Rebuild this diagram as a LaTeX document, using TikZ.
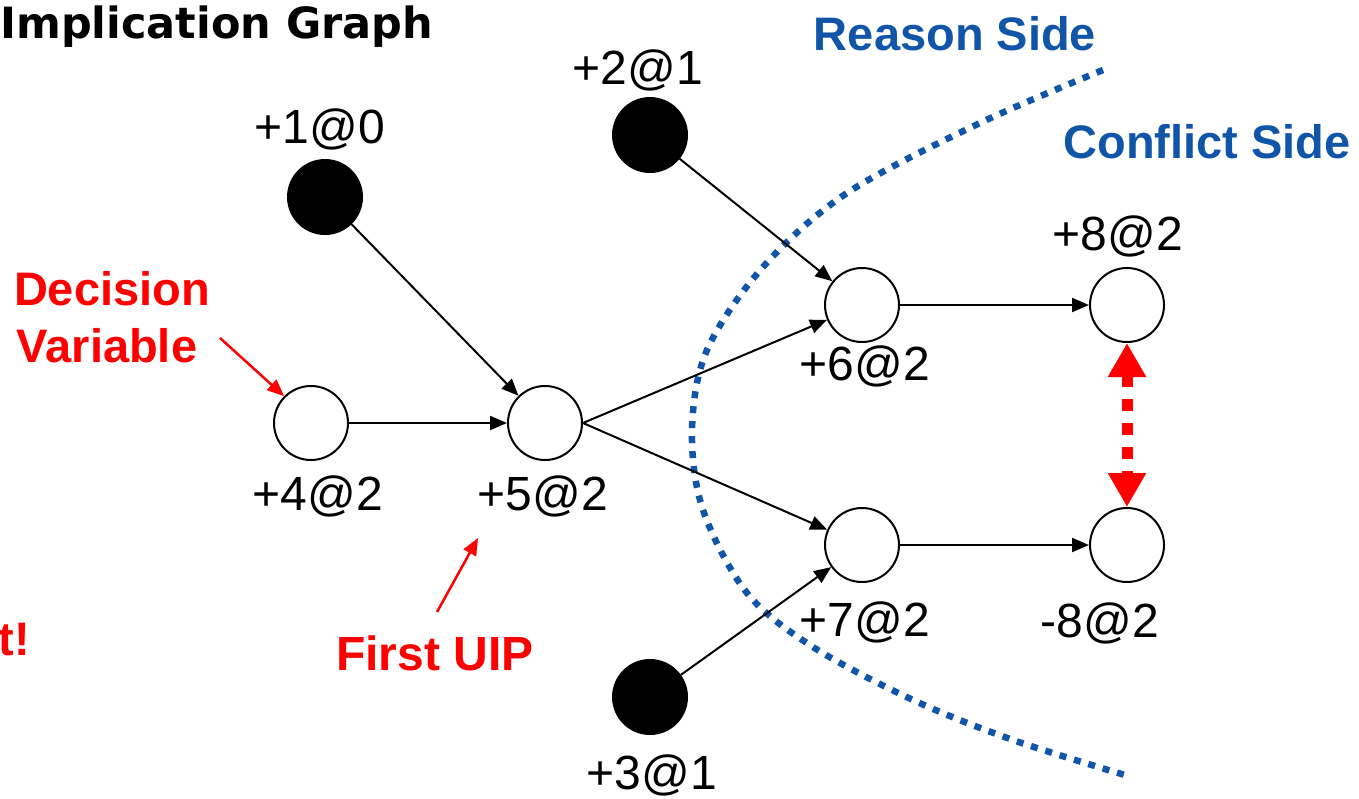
\documentclass[tikz,border=0pt]{standalone}
\usepackage{fontspec}
\setmainfont{Liberation Sans}
\newfontfamily\titlefont{DejaVu Sans}
\usetikzlibrary{arrows.meta}
\definecolor{cutblue}{RGB}{17,85,168}
\begin{document}
\begin{tikzpicture}[x=1pt,y=-1pt,
  vnode/.style={circle,draw,line width=2pt,minimum size=74pt,inner sep=0pt,fill=white},
  dnode/.style={vnode,fill=black},
  lbl/.style={anchor=base,inner sep=0pt,font=\fontsize{48}{56}\selectfont},
  redlbl/.style={anchor=base,inner sep=0pt,text=red,font=\fontsize{47}{56}\selectfont\bfseries},
  bluelbl/.style={anchor=base,inner sep=0pt,text=cutblue,font=\fontsize{47}{56}\selectfont\bfseries},
  edge/.style={line width=2pt,-{Triangle[length=17pt,width=14pt]}},
  redarrow/.style={line width=2.5pt,red,-{Triangle[length=17pt,width=14pt]}},
  conflict/.style={line width=11pt,red,dash pattern=on 12pt off 12pt,{Triangle[length=34pt,width=36pt]}-{Triangle[length=34pt,width=36pt]}},
  cut/.style={line width=6.5pt,cutblue,dash pattern=on 7pt off 8pt}
]
\useasboundingbox (0,0) rectangle (1359,798);

% cut curve
\draw[cut] plot[smooth,tension=0.55] coordinates {(1103,70) (980,123) (847,193) (763,267) (707,350) (692,430) (703,510) (747,593) (813,647) (913,700) (1013,740) (1125,775)};

% nodes
\node[dnode] (n1) at (325,197) {};
\node[dnode] (n2) at (650,135) {};
\node[dnode] (n3) at (650,697) {};
\node[vnode] (n4) at (311,423) {};
\node[vnode] (n5) at (545,423) {};
\node[vnode] (n6) at (862,305) {};
\node[vnode] (n7) at (862,545) {};
\node[vnode] (n8) at (1127,305) {};
\node[vnode] (m8) at (1127,545) {};

% labels
\node[lbl] (l1) at (320,143) {+1@0};
\node[lbl] (l2) at (638,84) {+2@1};
\node[lbl] (l3) at (652,789) {+3@1};
\node[lbl] (l4) at (318,510) {+4@2};
\node[lbl] (l5) at (543,510) {+5@2};
\node[lbl] (l6) at (865,380) {+6@2};
\node[lbl] (l7) at (865,636) {+7@2};
\node[lbl] (l8) at (1118,250) {+8@2};
\node[lbl] (lm8) at (1100,637) {-8@2};

% edges
\draw[edge] (n1) -- (n5);
\draw[edge] (n4) -- (n5);
\draw[edge] (n5.east) -- (n6);
\draw[edge] (n5.east) -- (n7);
\draw[edge] (n2) -- (n6);
\draw[edge] (n3) -- (n7);
\draw[edge] (n6) -- (n8);
\draw[edge] (n7) -- (m8);
\draw[conflict] (n8) -- (m8);

% texts
\node[anchor=base west,inner sep=0pt,font=\titlefont\fontsize{43}{50}\selectfont\bfseries] (title) at (0,38) {Implication Graph};
\node[bluelbl] (reason) at (955,50) {Reason Side};
\node[bluelbl] (confl) at (1207,158) {Conflict Side};
\node[redlbl] (dec) at (112,305) {Decision};
\node[redlbl] (var) at (107,362) {Variable};
\node[redlbl,font=\fontsize{48}{56}\selectfont\bfseries] (uip) at (435,670) {First UIP};
\node[redlbl,anchor=base east] (tex) at (30,655) {t!};

\coordinate (a1) at (220,338);
\coordinate (a2) at (437,612);
\coordinate (b2) at (478,538);
\draw[redarrow] (a1) -- (n4.north west);
\draw[redarrow] (a2) -- (b2);
\end{tikzpicture}
\end{document}
